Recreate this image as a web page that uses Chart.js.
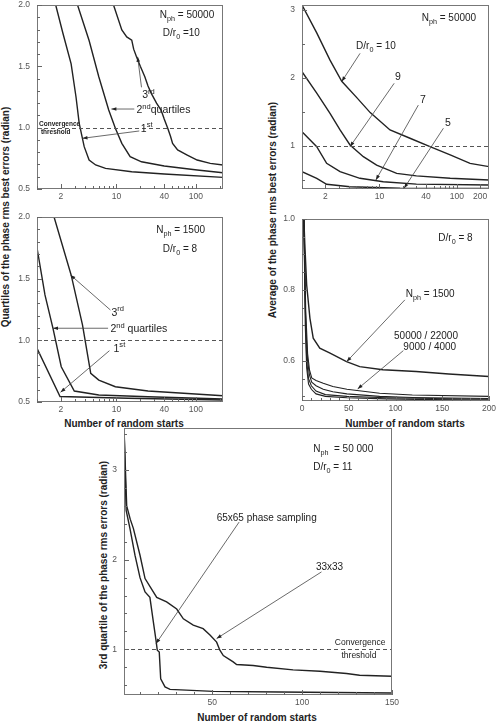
<!DOCTYPE html>
<html>
<head>
<meta charset="utf-8">
<script src="https://cdn.jsdelivr.net/npm/chart.js@4.4.0/dist/chart.umd.min.js"></script>
<style>
body{margin:0;background:#fff;width:497px;height:722px;overflow:hidden;position:relative;font-family:"Liberation Sans",Arial,sans-serif;}
canvas{position:absolute;}
.yt{position:absolute;font-weight:bold;font-size:10px;color:#222;white-space:nowrap;transform:translate(-50%,-50%) rotate(-90deg);}
.xt{position:absolute;font-weight:bold;font-size:10px;color:#222;white-space:nowrap;transform:translate(-50%,-50%);}
</style>
</head>
<body>
<div class="yt" style="left:5px;top:217px">Quartiles of the phase rms best errors (radian)</div>
<div class="yt" style="left:272px;top:210px">Average of the phase rms best errors (radian)</div>
<div class="yt" style="left:103px;top:565px">3rd quartile of the phase rms errors (radian)</div>
<div class="xt" style="left:124px;top:423px">Number of random starts</div>
<div class="xt" style="left:405px;top:423px">Number of random starts</div>
<div class="xt" style="left:257px;top:717px">Number of random starts</div>
<script>
// top-left: quartiles, Nph = 50000, D/r0 = 10
var tlX1 = [1.72, 2.12, 2.69, 3.1, 3.4, 3.93, 4.53, 5.48, 7.3, 15.6, 40, 220];
var tlY1 = [2.0, 1.77, 1.52, 1.25, 1.035, 0.845, 0.736, 0.696, 0.668, 0.641, 0.622, 0.595];
var tlX2 = [3.24, 4.53, 6.0, 8.0, 9.7, 11.7, 14.9, 20.7, 40, 104, 220];
var tlY2 = [2.0, 1.71, 1.415, 1.144, 0.995, 0.872, 0.763, 0.722, 0.687, 0.655, 0.633];
var tlX3 = [9.2, 11.7, 13.5, 15.6, 16.5, 17.9, 20, 22.8, 25, 27.5, 32, 36.5, 40, 44.3, 48, 51, 59, 78, 104, 152, 220];
var tlY3 = [2.0, 1.796, 1.74, 1.714, 1.64, 1.578, 1.5, 1.415, 1.34, 1.28, 1.2, 1.144, 1.07, 0.995, 0.93, 0.872, 0.818, 0.777, 0.736, 0.709, 0.696];

// top-right: Nph = 50000, several D/r0
var dr10X = [1, 1.55, 2.3, 3.26, 5.1, 7.6, 13.7, 24.8, 45, 82, 148, 260];
var dr10Y = [3.07, 2.66, 2.26, 1.95, 1.71, 1.49, 1.235, 1.113, 0.99, 0.868, 0.745, 0.696];
var dr9X = [1, 1.55, 2.3, 3.1, 4.17, 6.2, 9.2, 16.7, 30, 82, 260];
var dr9Y = [2.09, 1.775, 1.48, 1.235, 1.015, 0.843, 0.72, 0.598, 0.56, 0.525, 0.5];
var dr7X = [1, 1.55, 2.08, 3.1, 5.6, 11.2, 30, 260];
var dr7Y = [1.21, 0.99, 0.745, 0.622, 0.525, 0.475, 0.44, 0.426];
var dr5X = [1, 1.55, 2.08, 4.17, 18.5, 260];
var dr5Y = [0.622, 0.525, 0.437, 0.40, 0.378, 0.375];

// middle-left: quartiles, Nph = 1500, D/r0 = 8
var mlX3 = [1.64, 2.69, 3.74, 4.75, 6.0, 9.7, 25, 220];
var mlY3 = [2.0, 1.53, 1.125, 0.733, 0.678, 0.624, 0.589, 0.551];
var mlX2 = [1, 1.26, 1.59, 2.02, 2.95, 6, 25, 220];
var mlY2 = [1.75, 1.368, 1.097, 0.786, 0.589, 0.557, 0.543, 0.524];
var mlX1 = [1, 1.95, 14, 220];
var mlY1 = [0.935, 0.545, 0.53, 0.516];

// middle-right: average, D/r0 = 8, several Nph
var n1500X = [2, 3, 5, 8.5, 12, 19, 30, 47.6, 61.7, 86.5, 122, 157, 200];
var n1500Y = [1.0, 0.93, 0.814, 0.72, 0.664, 0.636, 0.622, 0.598, 0.584, 0.575, 0.57, 0.563, 0.556];
var n4000X = [2, 4, 6, 8, 10.4, 15, 22.7, 33, 48, 83, 118, 200];
var n4000Y = [1.0, 0.74, 0.62, 0.575, 0.552, 0.545, 0.537, 0.528, 0.52, 0.509, 0.504, 0.5];
var n9000X = [2, 4, 6, 8, 10.4, 15, 22.7, 33, 48, 83, 118, 200];
var n9000Y = [1.0, 0.7, 0.6, 0.56, 0.54, 0.53, 0.52, 0.513, 0.507, 0.5, 0.497, 0.494];
var n22000X = [2, 3.5, 5, 7, 10, 15, 25, 48, 90, 140, 200];
var n22000Y = [1.0, 0.75, 0.6, 0.55, 0.53, 0.515, 0.505, 0.5, 0.496, 0.494, 0.492];
var n50000X = [2, 3.5, 5, 7, 10, 15, 25, 48, 90, 140, 200];
var n50000Y = [1.0, 0.7, 0.58, 0.535, 0.52, 0.507, 0.5, 0.496, 0.493, 0.491, 0.49];

// bottom: 3rd quartile, Nph = 50 000, D/r0 = 11
var s65X = [1, 2.2, 4.3, 7.1, 9.9, 12.7, 15.4, 17.3, 18.8, 19.5, 20.6, 21.4, 23.8, 26.6, 50.6, 87.7, 150];
var s65Y = [3.47, 2.55, 2.35, 2.05, 1.8, 1.64, 1.58, 1.31, 1.10, 0.99, 0.97, 0.67, 0.58, 0.553, 0.53, 0.523, 0.512];
var s33X = [1, 2.5, 4.5, 6.2, 9.9, 12.7, 19.2, 24.7, 30.3, 34, 39.5, 45, 48.8, 52.5, 54.3, 56.2, 61.7, 63.6, 72.8, 80.3, 95, 110, 124.7, 132, 150];
var s33Y = [3.47, 2.6, 2.45, 2.35, 2.05, 1.79, 1.58, 1.53, 1.45, 1.34, 1.27, 1.23, 1.16, 1.08, 0.99, 0.93, 0.86, 0.83, 0.82, 0.80, 0.77, 0.755, 0.73, 0.71, 0.70];

// tick labels
var logTicksA = [2, 10, 40, 100];
var logTicksB = [2, 10, 40, 100, 200];
var quartTicksY = [0.5, 1.0, 1.5, 2.0];
var trTicksY = [1, 2, 3];
var avgTicksX = [0, 50, 100, 150, 200];
var avgTicksY = [0.6, 0.8, 1.0];
var botTicksX = [50, 100, 150];
var botTicksY = [1, 2, 3];

var FONT = '"Liberation Sans", Arial, sans-serif';

function richText(ctx, str, x, y, size, bold) {
  var parts = str.split(/(_\{[^}]*\}|\^\{[^}]*\})/);
  var cx = x;
  parts.forEach(function(p) {
    if (!p) return;
    var s = size, dy = 0, t = p;
    if (p[0] === '_') { t = p.slice(2, -1); s = size * 0.72; dy = size * 0.3; }
    else if (p[0] === '^') { t = p.slice(2, -1); s = size * 0.72; dy = -size * 0.45; }
    ctx.font = (bold ? 'bold ' : '') + s + 'px ' + FONT;
    ctx.fillText(t, cx, y + dy);
    cx += ctx.measureText(t).width;
  });
}

function arrow(ctx, x0, y0, x1, y1) {
  ctx.beginPath(); ctx.moveTo(x0, y0); ctx.lineTo(x1, y1); ctx.stroke();
  var a = Math.atan2(y1 - y0, x1 - x0), L = 5, W = 1.8;
  ctx.beginPath();
  ctx.moveTo(x1, y1);
  ctx.lineTo(x1 - L * Math.cos(a) + W * Math.sin(a), y1 - L * Math.sin(a) - W * Math.cos(a));
  ctx.lineTo(x1 - L * Math.cos(a) - W * Math.sin(a), y1 - L * Math.sin(a) + W * Math.cos(a));
  ctx.closePath(); ctx.fill();
}

function minorVals(min, max, log, step) {
  var out = [];
  if (log) {
    for (var k = 0; k < 4; k++) for (var m = 1; m < 10; m++) {
      var v = m * Math.pow(10, k);
      if (v >= min && v <= max) out.push(v);
    }
  } else {
    for (var v2 = Math.ceil(min / step) * step; v2 <= max + 1e-9; v2 += step) out.push(v2);
  }
  return out;
}

var deco = {
  id: 'deco',
  afterDatasetsDraw: function(chart, args, o) {
    var ctx = chart.ctx, a = chart.chartArea, xs = chart.scales.x, ys = chart.scales.y;
    ctx.save();
    if (o.threshold != null) {
      var ty = Math.round(ys.getPixelForValue(o.threshold)) + 0.5;
      ctx.setLineDash([4, 3]); ctx.strokeStyle = '#555'; ctx.lineWidth = 1;
      ctx.beginPath(); ctx.moveTo(a.left, ty); ctx.lineTo(a.right, ty); ctx.stroke();
      ctx.setLineDash([]);
    }
    ctx.strokeStyle = '#777'; ctx.lineWidth = 1;
    ctx.strokeRect(a.left + 0.5, a.top + 0.5, a.right - a.left - 1, a.bottom - a.top - 1);
    // inward tick marks
    ctx.strokeStyle = '#666';
    ctx.beginPath();
    minorVals(xs.min, xs.max, o.xLog, o.xMinor).forEach(function(v) {
      var px = Math.round(xs.getPixelForValue(v)) + 0.5;
      var len = o.xTicks.indexOf(v) >= 0 ? 5 : 3;
      ctx.moveTo(px, a.bottom); ctx.lineTo(px, a.bottom - len);
    });
    minorVals(ys.min, ys.max, false, o.yMinor).forEach(function(v) {
      var py = Math.round(ys.getPixelForValue(v)) + 0.5;
      var major = o.yTicks.some(function(t) { return Math.abs(t - v) < 1e-6; });
      ctx.moveTo(a.left, py); ctx.lineTo(a.left + (major ? 5 : 3), py);
    });
    ctx.stroke();
    // annotation lines
    ctx.strokeStyle = '#444'; ctx.fillStyle = '#222'; ctx.lineWidth = 0.8;
    (o.arrows || []).forEach(function(r) {
      arrow(ctx, xs.getPixelForValue(r[0]), ys.getPixelForValue(r[1]),
                 xs.getPixelForValue(r[2]), ys.getPixelForValue(r[3]));
    });
    ctx.fillStyle = '#222';
    (o.texts || []).forEach(function(t) {
      richText(ctx, t[0], xs.getPixelForValue(t[1]), ys.getPixelForValue(t[2]), t[3], t[4]);
    });
    ctx.restore();
  }
};

function makePanel(cfg) {
  var ml = 34, mt = 6, mr = 8, mb = 16;
  var ar = cfg.area;
  var w = ar[2] - ar[0] + ml + mr, h = ar[3] - ar[1] + mt + mb;
  var c = document.createElement('canvas');
  c.width = w; c.height = h;
  c.style.left = (ar[0] - ml) + 'px'; c.style.top = (ar[1] - mt) + 'px';
  c.style.width = w + 'px'; c.style.height = h + 'px';
  document.body.appendChild(c);
  var sets = cfg.series.map(function(s) {
    return {
      data: s[0].map(function(x, i) { return { x: x, y: s[1][i] }; }),
      showLine: true, borderColor: '#222', borderWidth: s[2] || 1.4,
      pointRadius: 0, tension: 0, fill: false
    };
  });
  var zero = function(s) { s.paddingLeft = 0; s.paddingRight = 0; s.paddingTop = 0; s.paddingBottom = 0; };
  new Chart(c, {
    type: 'scatter',
    data: { datasets: sets },
    plugins: [deco],
    options: {
      responsive: false, animation: false, events: [],
      layout: { padding: { left: 0, top: mt, right: mr, bottom: 0 } },
      plugins: {
        legend: { display: false }, tooltip: { enabled: false },
        deco: {
          threshold: cfg.threshold, xLog: cfg.xLog, xMinor: cfg.xMinor, yMinor: cfg.yMinor,
          xTicks: cfg.xTicks, yTicks: cfg.yTicks, texts: cfg.texts, arrows: cfg.arrows
        }
      },
      scales: {
        x: {
          type: cfg.xLog ? 'logarithmic' : 'linear', min: cfg.xMin, max: cfg.xMax,
          afterBuildTicks: function(s) { s.ticks = cfg.xTicks.map(function(v) { return { value: v }; }); },
          afterFit: function(s) { s.height = mb; zero(s); },
          ticks: { autoSkip: false, maxRotation: 0, padding: 3, color: '#555',
                   font: { size: 8.5, family: FONT }, callback: function(v) { return String(v); } },
          grid: { display: false, drawTicks: false }, border: { display: false }
        },
        y: {
          min: cfg.yMin, max: cfg.yMax,
          afterBuildTicks: function(s) { s.ticks = cfg.yTicks.map(function(v) { return { value: v }; }); },
          afterFit: function(s) { s.width = ml; zero(s); },
          ticks: { autoSkip: false, padding: 7, color: '#555',
                   font: { size: 8.5, family: FONT }, callback: function(v) { return v.toFixed(cfg.yDec); } },
          grid: { display: false, drawTicks: false }, border: { display: false }
        }
      }
    }
  });
}

makePanel({
  area: [37, 5, 223, 189], xLog: true, xMin: 1, xMax: 220, yMin: 0.5, yMax: 2.0,
  xTicks: logTicksA, yTicks: quartTicksY, yDec: 1, yMinor: 0.1, threshold: 1.0,
  series: [[tlX1, tlY1], [tlX2, tlY2], [tlX3, tlY3]],
  texts: [
    ['N_{ph} = 50000', 35.2, 1.89, 10], ['D/r_{0} =10', 38.4, 1.745, 10],
    ['Convergence', 1.06, 1.015, 6.5, true], ['threshold', 1.12, 0.948, 6.5, true],
    ['3^{rd}', 21.1, 1.239, 10.5], ['2^{nd}quartiles', 17.9, 1.117, 10.5], ['1^{st}', 20.3, 0.967, 10.5]
  ],
  arrows: [[20.7, 1.329, 18.5, 1.578], [16.8, 1.152, 8.65, 1.152], [19.4, 0.973, 3.74, 0.913]]
});

makePanel({
  area: [302, 5, 489, 189], xLog: true, xMin: 1, xMax: 260, yMin: 0.368, yMax: 3.07,
  xTicks: logTicksB, yTicks: trTicksY, yDec: 0, yMinor: 0.5, threshold: 1.0,
  series: [[dr10X, dr10Y], [dr9X, dr9Y], [dr7X, dr7Y], [dr5X, dr5Y]],
  texts: [
    ['N_{ph} = 50000', 35.2, 2.84, 10], ['D/r_{0} = 10', 4.99, 2.43, 10],
    ['9', 15.9, 1.97, 10.5], ['7', 33.5, 1.63, 10.5], ['5', 70.4, 1.29, 10.5]
  ],
  arrows: [[5.62, 2.36, 3.26, 1.946], [15.5, 1.92, 4.17, 0.99], [31.8, 1.6, 9.0, 0.5], [67, 1.26, 20.8, 0.378]]
});

makePanel({
  area: [37, 217, 223, 402], xLog: true, xMin: 1, xMax: 220, yMin: 0.5, yMax: 2.0,
  xTicks: logTicksA, yTicks: quartTicksY, yDec: 1, yMinor: 0.1, threshold: 1.0,
  series: [[mlX3, mlY3], [mlX2, mlY2], [mlX1, mlY1]],
  texts: [
    ['N_{ph} = 1500', 31.7, 1.87, 10], ['D/r_{0} = 8', 38.4, 1.719, 10],
    ['3^{rd}', 8.65, 1.2, 10.5], ['2^{nd} quartiles', 8.4, 1.065, 10.5], ['1^{st}', 9.2, 0.908, 10.5]
  ],
  arrows: [[8.4, 1.246, 2.64, 1.53], [7.85, 1.098, 1.59, 1.098], [8.17, 0.916, 1.98, 0.579]]
});

makePanel({
  area: [302, 219, 489, 401], xLog: false, xMin: 0, xMax: 200, yMin: 0.487, yMax: 1.0,
  xTicks: avgTicksX, xMinor: 10, yTicks: avgTicksY, yDec: 1, yMinor: 0.05, threshold: 1.0,
  series: [[n1500X, n1500Y], [n4000X, n4000Y, 1.1], [n9000X, n9000Y, 1.1], [n22000X, n22000Y, 1.1], [n50000X, n50000Y, 1.1]],
  texts: [
    ['D/r_{0} = 8', 145.8, 0.938, 10], ['N_{ph} = 1500', 111, 0.78, 10],
    ['50000 / 22000', 98.4, 0.662, 10], ['9000 / 4000', 108.4, 0.631, 10]
  ],
  arrows: [[110, 0.772, 47.8, 0.598], [108.4, 0.629, 59.5, 0.521]]
});

makePanel({
  area: [124, 428, 392, 695], xLog: false, xMin: 1, xMax: 150, yMin: 0.49, yMax: 3.47,
  xTicks: botTicksX, xMinor: 10, yTicks: botTicksY, yDec: 0, yMinor: 0.2, threshold: 1.0,
  series: [[s65X, s65Y], [s33X, s33Y]],
  texts: [
    ['N_{ph}  = 50 000', 106.2, 3.2, 10], ['D/r_{0} = 11', 106.2, 3.0, 10],
    ['65x65 phase sampling', 52.5, 2.43, 10], ['33x33', 107.7, 1.89, 10],
    ['Convergence', 118.2, 1.045, 8.5], ['threshold', 121.9, 0.9, 8.5]
  ],
  arrows: [[65, 2.42, 18.8, 1.064], [110.8, 1.864, 52.5, 1.12]]
});
</script>
</body>
</html>
